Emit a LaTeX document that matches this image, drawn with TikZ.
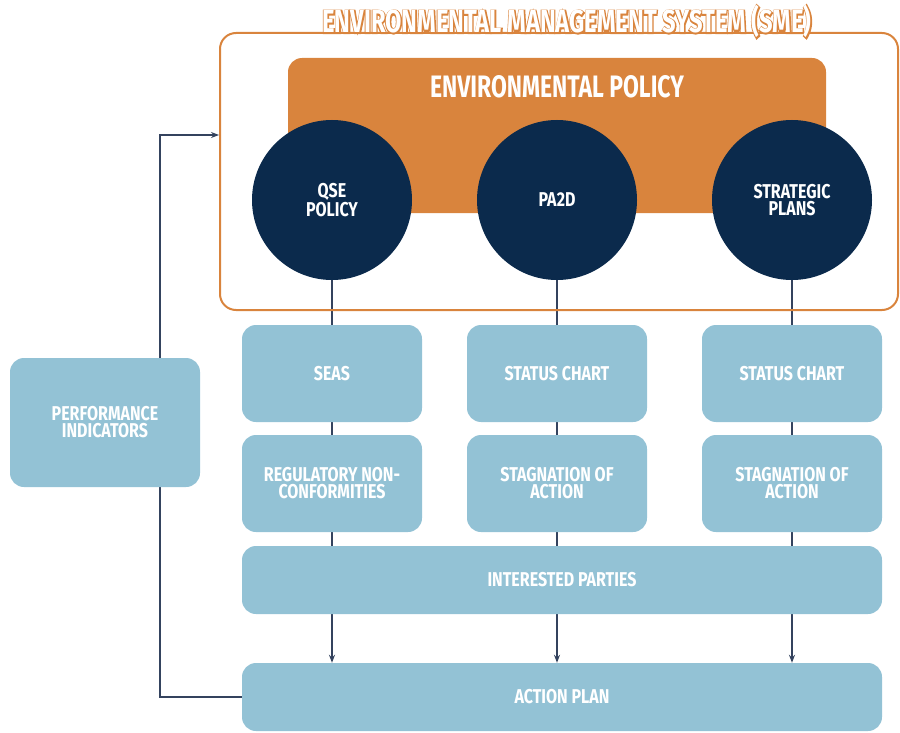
\documentclass[tikz,border=0pt]{standalone}
\usepackage{fontspec}
\usepackage{tikz}
\newfontfamily\condfont[FakeStretch=0.74]{Fira Sans}
\newfontfamily\edgefont[FakeStretch=0.74, FakeBold=7]{Fira Sans}
\newfontfamily\boxfont[FakeStretch=0.8]{Fira Sans}
\usetikzlibrary{arrows.meta}
\usetikzlibrary{backgrounds}
\definecolor{morange}{HTML}{D9843D}
\definecolor{mnavy}{HTML}{0B2A4C}
\definecolor{mblue}{HTML}{93C2D5}
\definecolor{mline}{HTML}{34435E}
\tikzset{bluebox/.style = {fill=mblue, rounded corners=14, inner sep=0, align=center, text=white,
    font=\boxfont\bfseries\fontsize{20}{17}\selectfont}}
\tikzset{colbox/.style = {bluebox, minimum width=180, minimum height=97}}
\tikzset{widebox/.style = {bluebox, minimum width=640, minimum height=68}}
\tikzset{navycirc/.style = {fill=mnavy, circle, inner sep=0, minimum size=160, align=center, text=white,
    font=\boxfont\bfseries\fontsize{20}{17}\selectfont}}
\tikzset{link/.style = {draw=mline, line width=1.3}}
\tikzset{flow/.style = {link, -{Stealth[length=8, width=6]}}}
\newcommand{\smetext}{ENVIRONMENTAL MANAGEMENT SYSTEM (SME)}

\begin{document}
\begin{tikzpicture}[x=1pt, y=-1pt]
      \useasboundingbox (0,0) rectangle (900,733);

      % system frame and outlined title
      \node [draw=morange, line width=2, rounded corners=16, inner sep=0,
        minimum width=678, minimum height=277] (sme) at (559,171.5) {};
      \node [anchor=base, inner sep=0, font=\fontsize{32}{32}\selectfont] (smetitle) at (567,33)
        {\rlap{\edgefont\bfseries\color{morange}\smetext}\condfont\bfseries\color{white}\smetext};

      \node [fill=morange, rounded corners=14, inner sep=0,
        minimum width=538, minimum height=155] (envpol) at (557,135.5) {};
      \node [text=white, font=\condfont\bfseries\fontsize{31}{31}\selectfont] (envpoltext) at (557,87) {ENVIRONMENTAL POLICY};

      \node [navycirc] (qse) at (332,200) {QSE\\POLICY};
      \node [navycirc] (pa2d) at (557,200) {PA2D};
      \node [navycirc] (strat) at (792,200) {STRATEGIC\\PLANS};

      \node [colbox] (seas) at (332,373.5) {SEAS};
      \node [colbox] (chartA) at (557,373.5) {STATUS CHART};
      \node [colbox] (chartB) at (792,373.5) {STATUS CHART};
      \node [colbox] (regnc) at (332,483.5) {REGULATORY NON-\\CONFORMITIES};
      \node [colbox] (stagA) at (557,483.5) {STAGNATION OF\\ACTION};
      \node [colbox] (stagB) at (792,483.5) {STAGNATION OF\\ACTION};

      \node [widebox] (parties) at (562,580) {INTERESTED PARTIES};
      \node [widebox] (action) at (562,697) {ACTION PLAN};
      \node [bluebox, minimum width=190, minimum height=129] (perf) at (105,422.5) {PERFORMANCE\\INDICATORS};

      \coordinate (fbtop) at (160,135);

      \begin{scope}[on background layer]
        \foreach \c/\a/\b in {qse/seas/regnc, pa2d/chartA/stagA, strat/chartB/stagB} {
          \draw [link] (\c.south) -- (\a.north) (\a.south) -- (\b.north) (\b.south) -- (\b.south |- parties.north);
          \draw [flow] (\b.south |- parties.south) -- (\b.south |- action.north);
        }
        \draw [flow] (action.west) -| (fbtop) -- (sme.west |- fbtop);
      \end{scope}
    \end{tikzpicture}
\end{document}
